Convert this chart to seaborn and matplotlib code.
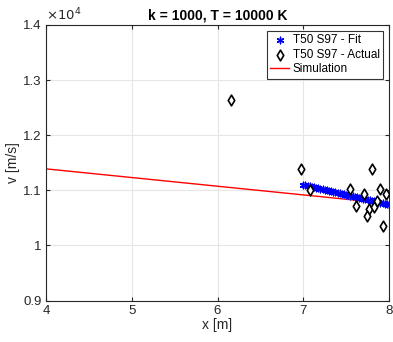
import numpy as np
import pandas as pd
import matplotlib
matplotlib.use("Agg")
import matplotlib.pyplot as plt
import seaborn as sns

# Data
fit_x = [7.000, 7.025, 7.050, 7.075, 7.100, 7.125, 7.150, 7.175, 7.200, 7.225,
         7.250, 7.275, 7.300, 7.325, 7.350, 7.375, 7.400, 7.425, 7.450, 7.475,
         7.500, 7.525, 7.550, 7.575, 7.600, 7.625, 7.650, 7.675, 7.700, 7.725,
         7.750, 7.775, 7.800, 7.825, 7.850, 7.875, 7.900, 7.925, 7.950, 7.975, 8.000]
fit_v = [11100, 11091, 11082, 11073, 11064, 11055, 11046, 11037, 11028, 11019,
         11010, 11001, 10992, 10983, 10974, 10965, 10956, 10947, 10938, 10929,
         10920, 10911, 10902, 10893, 10884, 10875, 10866, 10857, 10848, 10839,
         10830, 10821, 10812, 10803, 10794, 10785, 10776, 10767, 10758, 10749, 10740]
act_x = [6.16, 6.97, 7.08, 7.54, 7.80, 7.62, 7.71, 7.89, 7.96, 7.86, 7.77, 7.74, 7.83, 7.93]
act_v = [12640, 11390, 11010, 11020, 11380, 10710, 10930, 11030, 10940, 10800, 10670, 10540, 10700, 10350]
sim_x = [4.0, 8.0]
sim_v = [11390, 10760]

plt.rcParams['font.family'] = ['Liberation Sans', 'DejaVu Sans']
fig = plt.figure(figsize=(3.93, 3.42), dpi=100)
ax = fig.add_axes([0.117, 0.121, 0.873, 0.806])

df_fit = pd.DataFrame({'x': fit_x, 'v': fit_v})
df_act = pd.DataFrame({'x': act_x, 'v': act_v})
df_sim = pd.DataFrame({'x': sim_x, 'v': sim_v})

sns.scatterplot(data=df_fit, x='x', y='v', ax=ax, marker=(6, 2, 0), s=22,
                color='#0000ff', edgecolor='#0000ff', linewidth=1.0,
                label='T50 S97 - Fit', zorder=3)
sns.scatterplot(data=df_act, x='x', y='v', ax=ax, marker='d', s=30,
                facecolor='white', edgecolor='black', linewidth=1.2,
                label='T50 S97 - Actual', zorder=4)
sns.lineplot(data=df_sim, x='x', y='v', ax=ax, color='#ff0000', linewidth=1.0,
             label='Simulation', zorder=2)

ax.set_xlim(4, 8)
ax.set_ylim(9000, 14000)
ax.set_xticks([4, 5, 6, 7, 8])
ax.set_xticklabels(['4', '5', '6', '7', '8'])
yt = [9000, 10000, 11000, 12000, 13000, 14000]
ax.set_yticks(yt)
ax.set_yticklabels(['0.9', '1', '1.1', '1.2', '1.3', '1.4'])
ax.grid(True, color='#e6e6e6', linewidth=0.8)
ax.set_axisbelow(True)
ax.tick_params(direction='in', length=3, labelsize=9.5, colors='#262626', top=True, right=True, pad=3)
for sp in ax.spines.values():
    sp.set_color('#262626')
    sp.set_linewidth(0.8)
ax.set_xlabel('x [m]', fontsize=10, color='#262626', labelpad=1)
ax.set_ylabel('v [m/s]', fontsize=10, color='#262626', labelpad=2)
ax.set_title('k = 1000, T = 10000 K', fontsize=10, fontweight='bold', pad=4)
ax.text(0.0, 1.005, r'$\times10^4$', transform=ax.transAxes, fontsize=9.5,
        color='#262626', ha='left', va='bottom')

leg = ax.legend(loc='upper right', fontsize=8.5, frameon=True, fancybox=False,
                borderpad=0.3, labelspacing=0.2, handlelength=1.6, handletextpad=0.3,
                borderaxespad=0.5)
leg.get_frame().set_edgecolor('black')
leg.get_frame().set_linewidth(0.8)

fig.savefig('out.png', dpi=100)
